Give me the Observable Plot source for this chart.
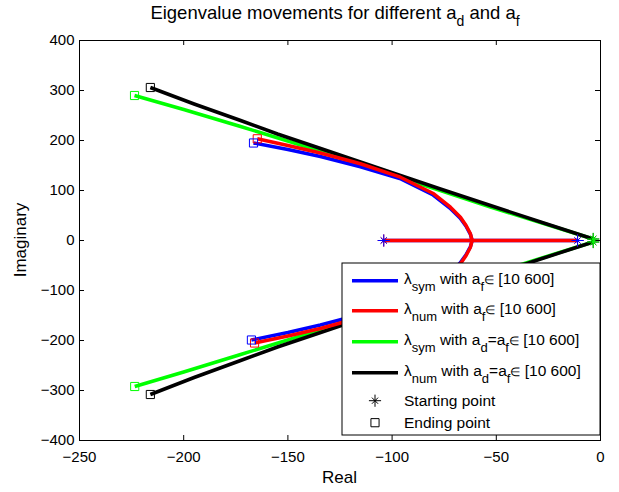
<!DOCTYPE html>
<html><head><meta charset="utf-8">
<script src="https://cdn.jsdelivr.net/npm/d3@7"></script>
<script src="https://cdn.jsdelivr.net/npm/@observablehq/plot@0.6"></script>
<style>body{margin:0;background:#fff} svg{display:block}</style>
</head><body><div id="chart"></div>
<script>
const xTicks = [-250, -200, -150, -100, -50, 0];
const yTicks = [-400, -300, -200, -100, 0, 100, 200, 300, 400];

// λ_sym with a_f ∈ [10 600]  (blue)
const symAfUpper = [[-104,0],[-61.6,0],[-62.4,12],[-64.6,29],[-67.4,45],[-72.3,65],[-80.3,91],[-96.3,124],[-115.2,147.5],[-134.4,168],[-150,182],[-166.5,195]];
const symAfLower = [[-11,0],[-61.6,0],[-62.4,-12],[-64.6,-29],[-67.4,-45],[-72.3,-65],[-80.3,-91],[-96.3,-124],[-115.2,-148],[-134.4,-169],[-150,-184],[-167.5,-199]];
// λ_num with a_f ∈ [10 600]  (red)
const numAfUpper = [[-104,0],[-61.6,0],[-62.4,13.4],[-64.5,30],[-67.2,46.6],[-72,66.6],[-80,93.4],[-96,126.6],[-115.2,153.5],[-120,159],[-134.4,175],[-150,190],[-164.7,203.4]];
const numAfLower = [[-11,0],[-61.6,0],[-62.4,-13.4],[-64.5,-30],[-67.2,-46.6],[-72,-66.6],[-80,-93.4],[-96,-126.6],[-115.2,-154],[-120,-159.5],[-134.4,-176],[-150,-191],[-166,-205]];
// λ_sym with a_d = a_f ∈ [10 600]  (green)
const symAdAfUpper = [[-3.5,3],[-25,31],[-52.8,67],[-76.8,100],[-96,126],[-115.2,153],[-140.7,187],[-172.7,228],[-200,262],[-223.6,290]];
const symAdAfLower = [[-3.5,-3],[-25,-31],[-52.8,-67],[-76.8,-100],[-96,-126],[-115.2,-153],[-140.7,-187],[-172.7,-228],[-200,-263],[-223.5,-292]];
// λ_num with a_d = a_f ∈ [10 600]  (black)
const numAdAfUpper = [[-3.5,3],[-28,36],[-52.8,70],[-76.8,103],[-96,130],[-115.2,157],[-135,185],[-155,213],[-172.7,240],[-195,273],[-216,306]];
const numAdAfLower = [[-3.5,-3],[-28,-36],[-52.8,-70],[-76.8,-103],[-96,-130],[-115.2,-157],[-135,-185],[-155,-213],[-172.7,-240],[-195,-274],[-216,-308]];

const colors = {symAf: "#0000ff", numAf: "#ff0000", symAdAf: "#00ff00", numAdAf: "#000000"};

const legendLabels = [
  [["λ"],["sym",1],[" with a"],["f",1],["∈",2],[" [10 600]"]],
  [["λ"],["num",1],[" with a"],["f",1],["∈",2],[" [10 600]"]],
  [["λ"],["sym",1],[" with a"],["d",1],["=a"],["f",1],["∈",2],[" [10 600]"]],
  [["λ"],["num",1],[" with a"],["d",1],["=a"],["f",1],["∈",2],[" [10 600]"]]
];
const legendColors = [colors.symAf, colors.numAf, colors.symAdAf, colors.numAdAf];
const markerLabels = ["Starting point", "Ending point"];
const titleParts = [["Eigenvalue movements for different a"],["d",1],[" and a"],["f",1]];

const FONT = "'Liberation Sans', Arial, Helvetica, sans-serif";
const LW = 3.5;
const xy = {x: d => d[0], y: d => d[1]};

const branches = [
  [symAdAfUpper, colors.symAdAf], [symAdAfLower, colors.symAdAf],
  [numAdAfUpper, colors.numAdAf], [numAdAfLower, colors.numAdAf],
  [symAfUpper, colors.symAf], [symAfLower, colors.symAf],
  [numAfUpper, colors.numAf], [numAfLower, colors.numAf]
];
const starOrder = [
  [numAdAfUpper, colors.numAdAf], [numAdAfLower, colors.numAdAf],
  [symAdAfUpper, colors.symAdAf], [symAdAfLower, colors.symAdAf],
  [numAfUpper, colors.numAf], [numAfLower, colors.numAf],
  [symAfUpper, colors.symAf], [symAfLower, colors.symAf]
];

const marks = [
  Plot.frame({stroke: "black", strokeWidth: 1}),
  Plot.tickX(xTicks, {x: d => d, insetTop: 395, stroke: "black"}),
  Plot.tickX(xTicks, {x: d => d, insetBottom: 395, stroke: "black"}),
  Plot.tickY(yTicks, {y: d => d, insetRight: 516, stroke: "black"}),
  Plot.tickY(yTicks, {y: d => d, insetLeft: 516, stroke: "black"}),
  Plot.axisX(xTicks, {tickSize: 0, tickPadding: 11, label: null, fill: "black"}),
  Plot.axisY(yTicks, {tickSize: 0, tickPadding: 5, label: null, fill: "black"})
];
for (const [d, c] of branches) marks.push(Plot.line(d, {...xy, stroke: c, strokeWidth: LW, strokeLinejoin: "round", strokeLinecap: "butt"}));
for (const [d, c] of starOrder) {
  marks.push(Plot.dot([d[0]], {...xy, symbol: "plus", r: 4, stroke: c, strokeWidth: 1}));
  marks.push(Plot.dot([d[0]], {...xy, symbol: "times", r: 2.9, stroke: c, strokeWidth: 1}));
}
for (const [d, c] of starOrder) {
  marks.push(Plot.dot([d[d.length - 1]], {...xy, symbol: "square", r: 4.6, stroke: c, fill: "none", strokeWidth: 1}));
}

const chart = Plot.plot({
  width: 619, height: 492,
  marginLeft: 79, marginRight: 19, marginTop: 40, marginBottom: 52,
  x: {domain: [-250, 0], label: null},
  y: {domain: [-400, 400], label: null},
  style: {fontFamily: FONT, fontSize: "15px", color: "black", background: "white", overflow: "visible"},
  marks
});
document.getElementById("chart").appendChild(chart);

const svg = d3.select(chart);
function rich(g, x, y, parts, size, subSize, shift, anchor) {
  const t = g.append("text").attr("x", x).attr("y", y).attr("font-size", size)
    .attr("text-anchor", anchor || "start").style("white-space", "pre").attr("fill", "black");
  let inSub = false;
  for (const [s, kind] of parts) {
    const ts = t.append("tspan").text(s);
    if (kind === 1) {
      ts.attr("font-size", subSize);
      if (!inSub) { ts.attr("dy", shift); inSub = true; }
    } else {
      if (kind === 2) ts.attr("font-size", size * 0.78);
      if (inSub) { ts.attr("dy", -shift); inSub = false; }
    }
  }
  return t;
}
const g = svg.append("g").attr("font-family", FONT);
// title
rich(g, 335, 18.5, titleParts, 18.5, 14, 7, "middle");
// axis labels
g.append("text").attr("x", 339.5).attr("y", 483).attr("text-anchor", "middle").attr("font-size", 17).attr("fill", "black").text("Real");
g.append("text").attr("transform", "translate(25.5,240) rotate(-90)").attr("text-anchor", "middle").attr("font-size", 17).attr("fill", "black").text("Imaginary");

// legend
const lg = svg.append("g").attr("font-family", FONT).attr("text-anchor", "start");
lg.append("rect").attr("x", 342).attr("y", 263).attr("width", 258).attr("height", 172)
  .attr("fill", "white").attr("stroke", "black").attr("stroke-width", 1);
const lineYs = [280.7, 310.7, 341.7, 372.7];
legendLabels.forEach((parts, i) => {
  lg.append("line").attr("x1", 352).attr("x2", 398).attr("y1", lineYs[i]).attr("y2", lineYs[i])
    .attr("stroke", legendColors[i]).attr("stroke-width", LW);
  rich(lg, 404, lineYs[i] + 2.8, parts, 15.5, 13, 7, "start");
});
const plusP = d3.symbol(d3.symbolPlus, Math.PI * 16)();
const timesP = d3.symbol(d3.symbolTimes, Math.PI * 2.9 * 2.9)();
const sqP = d3.symbol(d3.symbolSquare, Math.PI * 4.6 * 4.6)();
lg.append("path").attr("d", plusP).attr("transform", "translate(375,400.7)").attr("stroke", "black").attr("fill", "none");
lg.append("path").attr("d", timesP).attr("transform", "translate(375,400.7)").attr("stroke", "black").attr("fill", "none");
lg.append("path").attr("d", sqP).attr("transform", "translate(375,422.7)").attr("stroke", "black").attr("fill", "none");
lg.append("text").attr("x", 404).attr("y", 405.5).attr("font-size", 15.5).attr("text-anchor", "start").attr("fill", "black").text(markerLabels[0]);
lg.append("text").attr("x", 404).attr("y", 427.5).attr("font-size", 15.5).attr("text-anchor", "start").attr("fill", "black").text(markerLabels[1]);
</script></body></html>
